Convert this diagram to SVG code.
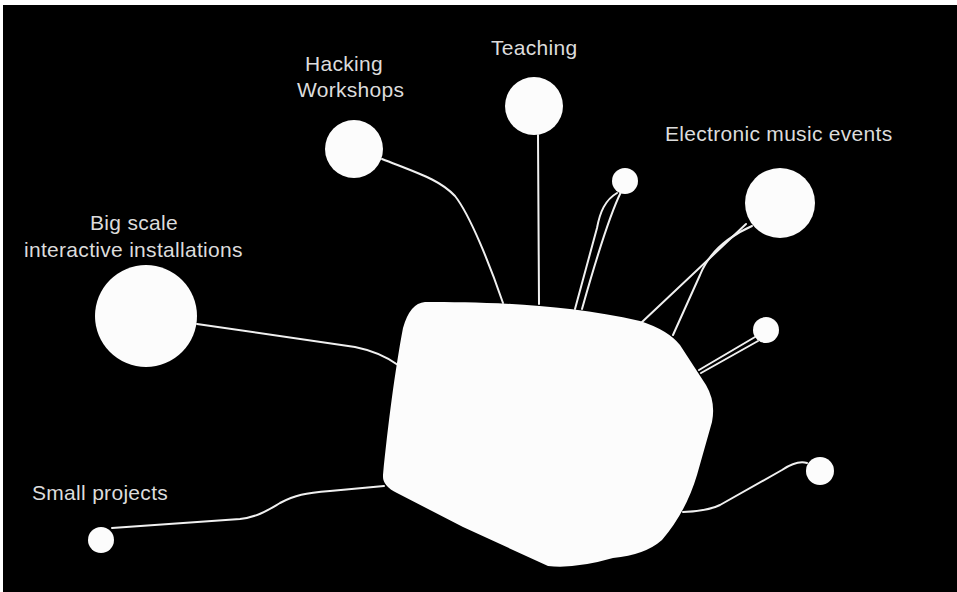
<svg xmlns="http://www.w3.org/2000/svg" width="957" height="592" viewBox="0 0 957 592">
  <style>
    .lbl { font-family: "Liberation Sans", Arial, sans-serif; font-size: 21px; letter-spacing: 0.3px; fill: #dcdcdc; }
    .node { fill: #fcfcfc; }
    .wire { fill: none; stroke: #f0f0f0; stroke-width: 2; stroke-linecap: round; stroke-linejoin: round; }
  </style>
  <rect x="0" y="0" width="957" height="592" fill="#ffffff"/>
  <rect x="3" y="5" width="954" height="587" fill="#000000"/>

  <g id="connectors">
    <path class="wire" d="M 197,324 L 355,347 Q 380,352 398,365"/>
    <path class="wire" d="M 382,159 C 420,174 440,180 455,196 C 470,215 490,265 503,303"/>
    <path class="wire" d="M 538,135 L 539,304"/>
    <path class="wire" d="M 617,193 C 605,200 600,212 597,228 L 575,309"/>
    <path class="wire" d="M 621,192 C 612,210 600,245 582,309"/>
    <path class="wire" d="M 746,224 L 641,323"/>
    <path class="wire" d="M 752,226 C 725,238 708,255 700,275 L 673,335"/>
    <path class="wire" d="M 755,337 L 699,370"/>
    <path class="wire" d="M 758,341 L 701,373"/>
    <path class="wire" d="M 807,463 Q 797,460 782,470 L 720,505 Q 708,511 683,512"/>
    <path class="wire" d="M 112,528 L 240,519 C 258,517 268,510 280,503 C 295,495 305,493 330,491 L 384,486"/>
  </g>

  <g id="core">
    <path class="node" d="M 425,302 C 480,302 560,303 640,321 Q 668,330 680,345 L 706,385 Q 716,402 712,422 L 697,475 Q 686,512 662,540 Q 645,555 613,558 Q 575,569 548,566 L 463,527 L 397,493 Q 382,486 383,475 C 388,425 395,370 403,328 Q 410,303 425,302 Z"/>
  </g>

  <g id="big-installations">
    <circle class="node" cx="146" cy="316" r="51"/>
    <text class="lbl" x="90" y="230">Big scale</text>
    <text class="lbl" x="24" y="257">interactive installations</text>
  </g>

  <g id="hacking-workshops">
    <circle class="node" cx="354" cy="149" r="29"/>
    <text class="lbl" x="305" y="71">Hacking</text>
    <text class="lbl" x="297" y="97">Workshops</text>
  </g>

  <g id="teaching">
    <circle class="node" cx="534" cy="106" r="29"/>
    <text class="lbl" x="491" y="55">Teaching</text>
  </g>

  <g id="small-top">
    <circle class="node" cx="625" cy="181" r="13"/>
  </g>

  <g id="electronic-music-events">
    <circle class="node" cx="780" cy="203" r="35"/>
    <text class="lbl" x="665" y="141">Electronic music events</text>
  </g>

  <g id="small-right">
    <circle class="node" cx="766" cy="330" r="13"/>
  </g>

  <g id="small-bottom-right">
    <circle class="node" cx="820" cy="471" r="14"/>
  </g>

  <g id="small-projects">
    <circle class="node" cx="101" cy="540" r="13"/>
    <text class="lbl" x="32" y="500">Small projects</text>
  </g>
</svg>
